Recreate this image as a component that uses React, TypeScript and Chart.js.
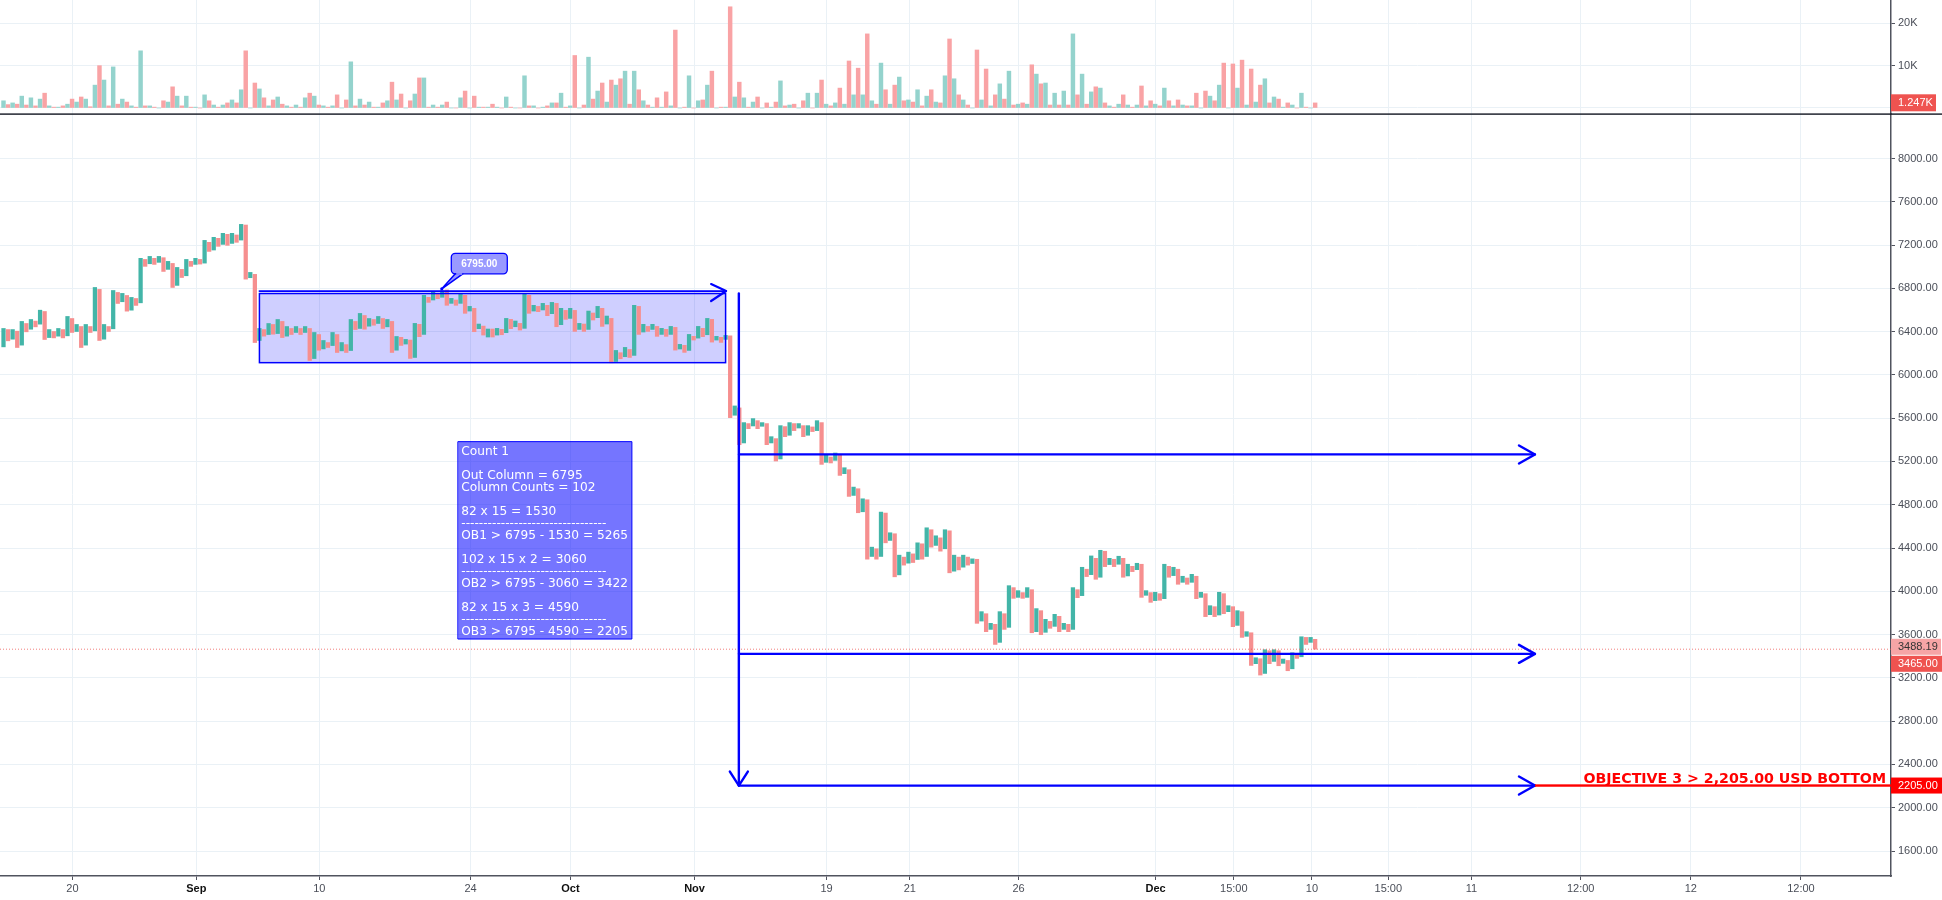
import React, { useEffect, useRef } from "react";
import { Chart, registerables } from "chart.js";

Chart.register(...registerables);

const columnTop = [
  6429,6419,6419,6404,6494,6475,6512,6497,6598,6586,
  6419,6401,6429,6419,6540,6521,6466,6447,6466,6447,
  6808,6790,6466,6447,6780,6762,6753,6734,6716,6706,
  7077,7067,7095,7077,7095,7083,7049,7030,6993,6975,
  7067,7049,7077,7067,7243,7225,7271,7262,7308,7299,
  7308,7293,7391,7385,6947,6929,6429,6419,6475,6466,
  6512,6494,6447,6429,6447,6429,6447,6429,6392,6373,
  6318,6299,6392,6373,6299,6280,6512,6494,6568,6549,
  6521,6512,6540,6521,6512,6494,6355,6347,6328,6322,
  6476,6467,6735,6717,6763,6754,6778,6785,6707,6692,
  6754,6735,6633,6615,6470,6451,6424,6424,6430,6421,
  6522,6513,6498,6476,6754,6735,6643,6633,6661,6643,
  6670,6661,6615,6596,6615,6596,6476,6470,6590,6572,
  6633,6615,6544,6522,6226,6205,6254,6235,6643,6633,
  6467,6448,6467,6448,6430,6421,6448,6439,6282,6273,
  6374,6356,6448,6430,6522,6513,6356,6347,6365,6361,
  5713,5695,5559,5550,5596,5577,5559,5550,5429,5411,
  5531,5522,5559,5550,5550,5531,5531,5519,5577,5559,
  5257,5241,5278,5266,5142,5124,4963,4948,4855,4846,
  4408,4393,4732,4723,4541,4532,4334,4316,4362,4346,
  4448,4439,4587,4569,4513,4494,4569,4559,4334,4316,
  4334,4316,4300,4296,3812,3793,3704,3695,3812,3793,
  4052,4034,4006,3988,4034,4015,3840,3821,3741,3722,
  3787,3769,3704,3695,4034,4015,4222,4204,4327,4305,
  4379,4370,4305,4296,4324,4305,4250,4231,4259,4250,
  4006,3988,3991,3978,4250,4231,4222,4204,4139,4123,
  4157,4139,3991,3978,3867,3858,3991,3978,3867,3858,
  3821,3812,3627,3617,3386,3377,3460,3451,3460,3451,
  3374,3361,3432,3420,3580,3574,3574,3556,
];

const columnBottom = [
  6259,6315,6330,6253,6275,6398,6422,6444,6469,6327,
  6345,6342,6358,6342,6361,6392,6401,6253,6275,6392,
  6407,6318,6330,6401,6426,6660,6676,6589,6598,6642,
  6666,7003,7027,7021,7040,6956,6975,6808,6827,6900,
  6916,7003,7021,7024,7033,7141,7154,7188,7206,7197,
  7215,7225,7246,6885,6898,6299,6318,6358,6373,6376,
  6382,6345,6358,6373,6392,6373,6392,6133,6151,6228,
  6240,6253,6271,6207,6222,6207,6225,6419,6429,6422,
  6450,6459,6475,6429,6444,6207,6228,6272,6285,6152,
  6161,6353,6374,6670,6692,6704,6717,6643,6661,6643,
  6661,6569,6590,6399,6427,6368,6350,6350,6368,6371,
  6390,6427,6445,6414,6430,6569,6590,6584,6600,6547,
  6566,6445,6464,6513,6522,6402,6420,6402,6420,6507,
  6529,6448,6470,6112,6124,6149,6168,6161,6180,6374,
  6396,6402,6420,6356,6374,6356,6374,6229,6239,6208,
  6226,6322,6340,6353,6371,6303,6322,6300,6328,5605,
  5627,5355,5371,5503,5528,5503,5525,5355,5371,5204,
  5223,5429,5442,5485,5509,5429,5442,5476,5485,5173,
  5192,5186,5210,5071,5087,4877,4886,4726,4735,4297,
  4322,4297,4322,4448,4470,4134,4152,4242,4260,4266,
  4294,4297,4322,4408,4424,4371,4393,4171,4186,4198,
  4223,4242,4257,3704,3725,3627,3648,3509,3528,3648,
  3667,3935,3944,3935,3944,3617,3627,3599,3621,3658,
  3676,3627,3648,3627,3648,3941,3960,4136,4154,4111,
  4130,4228,4247,4228,4250,4130,4142,4182,4200,3944,
  3963,3898,3914,3917,3932,4130,4145,4065,4083,4065,
  4083,3932,3944,3766,3784,3766,3781,3793,3812,3673,
  3685,3574,3584,3315,3331,3226,3241,3331,3352,3312,
  3334,3266,3284,3380,3395,3509,3528,3465,
];

const volumeK = [
  1.7,.8,1.2,.9,2.8,.7,2.4,.5,2.1,3.5,
  .5,.2,.2,.5,.9,2.1,1.4,2.6,2.1,.3,
  5.4,10,6.6,.5,9.7,.9,2.1,1.4,.5,.2,
  13.5,.5,.5,.2,0,1.7,1.4,5,2.8,.5,
  2.8,.2,.2,0,3.1,1.7,.7,.2,.7,1.2,
  1.9,1.2,4.3,13.5,0,5.9,4.5,2.4,.5,1.9,
  2.6,.9,.5,.2,.7,.2,2.4,3.5,2.8,.7,
  .5,.2,.5,3.1,0,1.9,10.9,.5,2.1,.7,
  1.4,.2,.2,1.2,1.7,6.1,1.9,3.3,0,1.7,
  3.3,7.1,7.1,.2,.7,.2,.7,1.4,0,0,
  2.4,4,0,2.8,.2,.2,.2,.9,.2,0,
  2.6,.2,0,0,7.6,.5,.5,0,.2,.5,
  1.2,1.2,3.5,.2,.5,12.4,0,.7,12,2.1,
  4,5.9,1.4,6.6,5.4,6.9,8.7,.9,8.7,4.3,
  1.7,.7,.2,2.4,.2,3.8,.5,18.4,0,.2,
  7.6,0,1.7,1.9,5.4,8.7,0,.2,.2,23.9,
  2.6,6.1,2.4,.2,1.4,2.6,0,1.2,.2,1.4,
  6.4,.5,.7,.9,0,1.7,3.5,0,3.5,6.6,
  .9,.5,1.2,4.7,.9,11.1,3.1,9.4,3.1,17.5,
  1.7,.9,10.6,4.3,.9,5.4,7.3,1.7,1.9,1.4,
  4.3,.5,2.8,4.3,1.4,1.2,7.6,16.3,6.9,3.1,
  1.9,.7,0,13.7,1.9,9.2,.5,3.1,5.7,2.1,
  8.7,.7,.9,1.2,.9,10.2,8,5.7,5.9,.7,
  3.5,.7,4,.7,17.5,3.1,8,.9,3.8,5,
  4.7,1.2,.5,.2,.9,3.1,.7,.2,.7,5.2,
  .5,1.7,.9,.5,4.7,1.7,.5,1.9,.7,.5,
  .5,3.5,0,4,2.8,1.7,5.4,10.6,0,10.4,
  4.7,11.3,.7,9.2,1.4,5.4,6.9,1.2,2.6,2.1,
  .2,1.2,.7,0,3.5,.2,0,1.2,
];

const xTickColumns = [15.08,42.2,69.1,102.2,124.05,151.2,180.1,198.3,222.1,252.1,269.2,286.3,303,321.2,345.1,369.2,393.3];
const xTickLabels = ["20","Sep","10","24","Oct","Nov","19","21","26","Dec","15:00","10","15:00","11","12:00","12","12:00"];
const boldLabels = ["Sep","Oct","Nov","Dec"];

const priceTicks = [1600,2000,2400,2800,3200,3600,4000,4400,4800,5200,5600,6000,6400,6800,7200,7600,8000];
const volumeTicks = [0,10000,20000];

const rangeBoxColumns = [56, 158];
const rangeBoxPrices = [6752, 6113];
const rangeArrowPrice = 6775;
const outColumn = 160.9;
const outColumnTopPrice = 6752;
const objectivePrices = [5265, 3422, 2205];
const arrowEndColumn = 335.1;
const bottomPrice = 2205;
const lastPrice = 3465;
const calloutColumn = 95.9;
const calloutPrice = 6795;
const countBoxColumns = [99.5, 137.5];
const countBoxPrices = [5383, 3559];
const countLines: [string, number][] = [
  ["Count 1", 0],
  ["Out Column = 6795", 2],
  ["Column Counts = 102", 3],
  ["82 x 15 = 1530", 5],
  ["---------------------------------", 6],
  ["OB1 > 6795 - 1530 = 5265", 7],
  ["102 x 15 x 2 = 3060", 9],
  ["---------------------------------", 10],
  ["OB2 > 6795 - 3060 = 3422", 11],
  ["82 x 15 x 3 = 4590", 13],
  ["---------------------------------", 14],
  ["OB3 > 6795 - 4590 = 2205", 15],
];

const X_MIN = -0.766;
const X_MAX = 413;
const GRID = "#EAF1F6";
const AXIS = "#50535E";
const LABEL = "#4A4E58";
const UI_FONT = '"Liberation Sans", Arial, sans-serif';
const BLUE = "#0000FF";

function parity(ctx: any, up: string, down: string) {
  return ctx.dataIndex % 2 === 0 ? up : down;
}

function xScale(showLabels: boolean) {
  return {
    type: "linear",
    min: X_MIN,
    max: X_MAX,
    offset: false,
    afterBuildTicks: (axis: any) => {
      axis.ticks = xTickColumns.map((value) => ({ value }));
    },
    afterFit: (axis: any) => {
      axis.height = showLabels ? 24 : 0;
      axis.paddingLeft = 0;
      axis.paddingRight = 0;
    },
    grid: { offset: false, color: GRID, lineWidth: 1, drawTicks: showLabels, tickLength: 4, tickColor: AXIS },
    border: { display: showLabels, color: AXIS, width: 1.5 },
    ticks: {
      display: showLabels,
      autoSkip: false,
      maxRotation: 0,
      padding: 2,
      callback: (_v: any, i: number) => xTickLabels[i],
      color: (ctx: any) => (boldLabels.includes(ctx.tick?.label) ? "#111111" : LABEL),
      font: (ctx: any) => ({
        family: UI_FONT,
        size: 11,
        weight: boldLabels.includes(ctx.tick?.label) ? "bold" : "normal",
      }),
    },
  };
}

function yScale(min: number, max: number, values: number[], format: (v: number) => string) {
  return {
    type: "linear",
    position: "right",
    min,
    max,
    afterBuildTicks: (axis: any) => {
      axis.ticks = values.map((value) => ({ value }));
    },
    afterFit: (axis: any) => {
      axis.width = 51;
      axis.paddingTop = 0;
      axis.paddingBottom = 0;
    },
    grid: { color: GRID, lineWidth: 1, tickLength: 4, tickColor: AXIS },
    border: { color: AXIS, width: 1.5 },
    ticks: {
      padding: 3,
      color: LABEL,
      autoSkip: false,
      font: { family: UI_FONT, size: 11 },
      callback: (v: any) => format(Number(v)),
    },
  };
}

function priceTag(c: CanvasRenderingContext2D, x: number, yCenter: number, w: number, h: number, fill: string, color: string, text: string) {
  c.fillStyle = fill;
  c.fillRect(x, yCenter - h / 2, w, h);
  c.fillStyle = color;
  c.font = `11px ${UI_FONT}`;
  c.textAlign = "left";
  c.textBaseline = "middle";
  c.fillText(text, x + 7, yCenter + 0.5);
}

function stroke(c: CanvasRenderingContext2D, pts: number[][], color: string, width: number) {
  c.beginPath();
  pts.forEach(([x, y], i) => (i ? c.lineTo(x, y) : c.moveTo(x, y)));
  c.strokeStyle = color;
  c.lineWidth = width;
  c.lineJoin = "round";
  c.lineCap = "round";
  c.stroke();
}

const volumeOverlay = {
  id: "volumeOverlay",
  afterDraw(chart: any) {
    const c = chart.ctx as CanvasRenderingContext2D;
    const right = chart.chartArea.right;
    c.save();
    priceTag(c, right, 102.8, 45, 17, "#EF5350", "#FFFFFF", "1.247K");
    c.restore();
  },
};

const mainOverlay = {
  id: "mainOverlay",
  beforeDatasetsDraw(chart: any) {
    const c = chart.ctx as CanvasRenderingContext2D;
    const X = (v: number) => chart.scales.x.getPixelForValue(v);
    const Y = (v: number) => chart.scales.y.getPixelForValue(v);
    const bx0 = X(rangeBoxColumns[0]), bx1 = X(rangeBoxColumns[1]);
    const by0 = Y(rangeBoxPrices[0]), by1 = Y(rangeBoxPrices[1]);
    c.save();
    c.fillStyle = "rgba(0,0,255,0.19)";
    c.fillRect(bx0, by0, bx1 - bx0, by1 - by0);
    c.restore();
  },
  afterDatasetsDraw(chart: any) {
    const c = chart.ctx as CanvasRenderingContext2D;
    const X = (v: number) => chart.scales.x.getPixelForValue(v);
    const Y = (v: number) => chart.scales.y.getPixelForValue(v);
    const right = chart.chartArea.right;
    c.save();

    c.setLineDash([1, 2]);
    c.lineCap = "butt";
    c.beginPath();
    c.moveTo(0, Y(lastPrice));
    c.lineTo(right, Y(lastPrice));
    c.strokeStyle = "rgba(239,83,80,0.75)";
    c.lineWidth = 1;
    c.stroke();
    c.setLineDash([]);

    const bx0 = X(rangeBoxColumns[0]), bx1 = X(rangeBoxColumns[1]);
    const by0 = Y(rangeBoxPrices[0]), by1 = Y(rangeBoxPrices[1]);
    c.strokeStyle = BLUE;
    c.lineWidth = 1.5;
    c.strokeRect(bx0, by0, bx1 - bx0, by1 - by0);

    const ay = Y(rangeArrowPrice);
    const ax1 = X(rangeBoxColumns[1]) + 0.5;
    stroke(c, [[bx0, ay], [ax1, ay]], BLUE, 1.8);
    stroke(c, [[ax1 - 15, ay - 7], [ax1, ay], [ax1 - 15, ay + 10]], BLUE, 2.2);

    const vx = X(outColumn);
    const vBottom = Y(bottomPrice);
    stroke(c, [[vx, Y(outColumnTopPrice)], [vx, vBottom]], BLUE, 2.4);
    stroke(c, [[vx - 9, vBottom - 14], [vx, vBottom], [vx + 9, vBottom - 14]], BLUE, 2.4);

    const tip = X(arrowEndColumn);
    objectivePrices.forEach((p) => {
      const y = Y(p);
      stroke(c, [[vx, y], [tip, y]], BLUE, 2.2);
      stroke(c, [[tip - 16, y - 9], [tip, y], [tip - 16, y + 9]], BLUE, 2.4);
    });

    const by = Y(bottomPrice);
    c.fillStyle = "#FF0000";
    c.fillRect(tip, by - 1.2, right - tip, 2.4);
    c.font = 'bold 14.2px "DejaVu Sans", sans-serif';
    c.textAlign = "right";
    c.textBaseline = "alphabetic";
    c.fillText("OBJECTIVE 3 > 2,205.00 USD BOTTOM", right - 5, by - 3);

    // Count box
    const cx0 = X(countBoxColumns[0]), cx1 = X(countBoxColumns[1]);
    const cy0 = Y(countBoxPrices[0]), cy1 = Y(countBoxPrices[1]);
    c.fillStyle = "rgba(0,0,255,0.54)";
    c.fillRect(cx0, cy0, cx1 - cx0, cy1 - cy0);
    c.strokeStyle = BLUE;
    c.lineWidth = 1;
    c.strokeRect(cx0, cy0, cx1 - cx0, cy1 - cy0);
    c.fillStyle = "#FFFFFF";
    c.font = '12.2px "DejaVu Sans", sans-serif';
    c.textAlign = "left";
    countLines.forEach(([t, line]) => c.fillText(t, cx0 + 3, cy0 + 13.5 + 12 * line));

    // Callout
    const tx = X(calloutColumn), ty = Y(calloutPrice);
    c.beginPath();
    (c as any).roundRect(tx + 9.5, ty - 35.5, 56, 20.5, 4);
    c.fillStyle = "#9999FF";
    c.fill();
    c.beginPath();
    c.moveTo(tx, ty);
    c.lineTo(tx + 13.5, ty - 15);
    c.lineTo(tx + 21, ty - 15);
    c.closePath();
    c.fill();
    stroke(c, [[tx + 21, ty - 15], [tx, ty], [tx + 13.5, ty - 15]], BLUE, 1.5);
    c.beginPath();
    (c as any).roundRect(tx + 9.5, ty - 35.5, 56, 20.5, 4);
    c.strokeStyle = BLUE;
    c.lineWidth = 1.3;
    c.stroke();
    c.fillStyle = "#9999FF";
    c.fillRect(tx + 14.5, ty - 15.7, 6, 1.6);
    c.beginPath();
    c.arc(tx, ty, 1.6, 0, Math.PI * 2);
    c.fillStyle = BLUE;
    c.fill();
    c.fillStyle = "#FFFFFF";
    c.font = `bold 10px ${UI_FONT}`;
    c.textAlign = "center";
    c.textBaseline = "middle";
    c.fillText("6795.00", tx + 37.5, ty - 25);

    c.restore();
  },
  afterDraw(chart: any) {
    const c = chart.ctx as CanvasRenderingContext2D;
    const Y = (v: number) => chart.scales.y.getPixelForValue(v);
    const right = chart.chartArea.right;
    c.save();
    c.fillStyle = "#131722";
    c.fillRect(0, 0.4, chart.width, 1.4);
    priceTag(c, right, Y(lastPrice) - 2.4, 50, 16, "#F6A5A6", "#333333", "3488.19");
    priceTag(c, right, Y(lastPrice) + 14.6, 51, 16, "#EF5350", "#FFFFFF", "3465.00");
    priceTag(c, right, Y(bottomPrice), 51, 16, "#FF0000", "#FFFFFF", "2205.00");
    c.restore();
  },
};

export default function App() {
  const volRef = useRef<HTMLCanvasElement>(null);
  const mainRef = useRef<HTMLCanvasElement>(null);

  useEffect(() => {
    const common = {
      responsive: false,
      animation: false,
      devicePixelRatio: 1,
      plugins: { legend: { display: false }, tooltip: { enabled: false } },
      parsing: { xAxisKey: "x", yAxisKey: "y" },
    };

    const vol = new Chart(volRef.current as HTMLCanvasElement, {
      type: "bar",
      data: {
        datasets: [
          {
            data: volumeK.map((v, i) => ({ x: i, y: v * 1000 })),
            barThickness: 3.8,
            backgroundColor: (ctx: any) => parity(ctx, "#94D3CD", "#F9A3A5"),
          },
        ],
      },
      options: {
        ...common,
        layout: { padding: 0, autoPadding: false },
        scales: {
          x: xScale(false),
          y: yScale(-1417, 25502, volumeTicks, (v) => (v === 0 ? "" : `${v / 1000}K`)),
        },
      },
      plugins: [volumeOverlay],
    } as any);

    const main = new Chart(mainRef.current as HTMLCanvasElement, {
      type: "bar",
      data: {
        datasets: [
          {
            data: columnTop.map((t, i) => ({ x: i, y: [columnBottom[i], t] })),
            barThickness: 3.6,
            backgroundColor: (ctx: any) => parity(ctx, "#43B5A8", "#F68F8F"),
          },
        ],
      },
      options: {
        ...common,
        layout: { padding: { top: 1 }, autoPadding: false },
        scales: {
          x: xScale(true),
          y: yScale(1369, 8411, priceTicks, (v) => v.toFixed(2)),
        },
      },
      plugins: [mainOverlay],
    } as any);

    return () => {
      vol.destroy();
      main.destroy();
    };
  }, []);

  return (
    <div style={{ position: "fixed", left: 0, top: 0, width: 1942, height: 900, background: "#FFFFFF", overflow: "hidden" }}>
      <canvas ref={volRef} width={1942} height={114} style={{ position: "absolute", left: 0, top: 0, width: 1942, height: 114 }} />
      <canvas ref={mainRef} width={1942} height={787} style={{ position: "absolute", left: 0, top: 113, width: 1942, height: 787 }} />
    </div>
  );
}
